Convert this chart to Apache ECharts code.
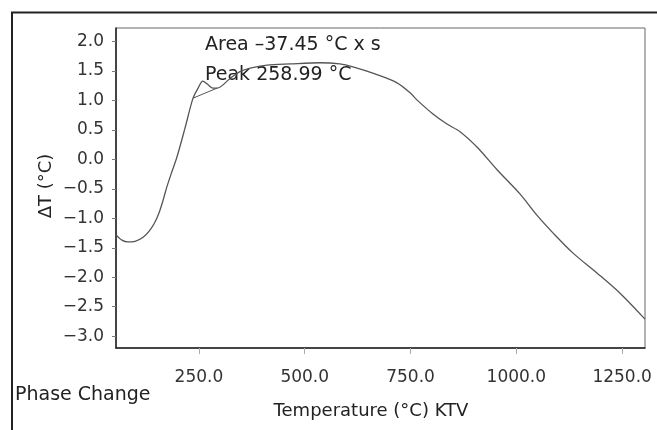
<!DOCTYPE html>
<html>
<head>
<meta charset="utf-8">
<script src="https://cdn.jsdelivr.net/npm/echarts@6/dist/echarts.min.js"></script>
<style>
  html, body { margin: 0; padding: 0; background: #fff; }
  #chart { width: 657px; height: 430px; }
</style>
</head>
<body>
<div id="chart"></div>
<script>
// DTA trace, temperature (°C) vs ΔT (°C)
const temps = [54, 68, 82, 99, 118, 132, 145, 156, 165, 174, 186, 198, 217, 236, 248, 259, 271, 283, 293,
  323, 347, 371, 411, 465, 536, 583, 614, 666, 718, 749, 765, 803, 836, 867, 907, 955, 1009,
  1049, 1087, 1134, 1191, 1245, 1304]
const deltaT = [-1.28, -1.37, -1.40, -1.39, -1.32, -1.22, -1.08, -0.90, -0.70, -0.47, -0.21, 0.04, 0.53, 1.04, 1.21, 1.33, 1.27, 1.21, 1.21,
  1.37, 1.49, 1.55, 1.60, 1.62, 1.64, 1.62, 1.57, 1.45, 1.30, 1.13, 1.01, 0.77, 0.60, 0.47, 0.21, -0.18, -0.59,
  -0.95, -1.25, -1.59, -1.93, -2.27, -2.71]

// peak integration baseline
const baseTemps = [236, 293]
const baseValues = [1.04, 1.21]

const xTicks = [250, 500, 750, 1000, 1250]
const yTicks = [-3.0, -2.5, -2.0, -1.5, -1.0, -0.5, 0.0, 0.5, 1.0, 1.5, 2.0]

const FONT = 'DejaVu Sans'
const chart = echarts.init(document.getElementById('chart'))

const fmt = v => (v < 0 ? '\u2212' : '') + Math.abs(v).toFixed(1)

const option = {
  animation: false,
  grid: {
    left: 116, right: 12, top: 28, bottom: 82,
    show: true, borderColor: '#666', borderWidth: 1
  },
  xAxis: {
    type: 'value',
    min: 54, max: 1304,
    splitLine: { show: false },
    axisLine: { onZero: false, lineStyle: { color: '#222', width: 1.5 } },
    axisTick: { customValues: xTicks, length: 6, lineStyle: { color: '#aaa' } },
    axisLabel: {
      customValues: xTicks, margin: 21,
      formatter: v => v.toFixed(1),
      fontFamily: FONT, fontSize: 17, color: '#333'
    }
  },
  yAxis: {
    type: 'value',
    min: -3.2, max: 2.23,
    splitLine: { show: false },
    axisLine: { show: true, onZero: false, lineStyle: { color: '#222', width: 1.5 } },
    axisTick: { show: true, customValues: yTicks, length: 4, lineStyle: { color: '#777' } },
    axisLabel: {
      customValues: yTicks, margin: 12,
      formatter: fmt,
      fontFamily: FONT, fontSize: 17, color: '#333'
    }
  },
  series: [
    {
      type: 'line',
      data: temps.map((t, i) => [t, deltaT[i]]),
      smooth: 0.3,
      symbol: 'none',
      lineStyle: { color: '#555', width: 1.3 }
    },
    {
      type: 'line',
      data: baseTemps.map((t, i) => [t, baseValues[i]]),
      symbol: 'none',
      lineStyle: { color: '#555', width: 1 }
    }
  ],
  graphic: [
    { type: 'line', shape: { x1: 11, y1: 12.5, x2: 657, y2: 12.5 }, style: { stroke: '#222', lineWidth: 2 } },
    { type: 'line', shape: { x1: 12, y1: 12, x2: 12, y2: 430 }, style: { stroke: '#222', lineWidth: 2 } },
    {
      type: 'text', x: 205, y: 45,
      style: { text: 'Area \u201337.45 °C x s', fontFamily: FONT, fontSize: 19, fill: '#222', verticalAlign: 'middle' }
    },
    {
      type: 'text', x: 205, y: 75,
      style: { text: 'Peak 258.99 °C', fontFamily: FONT, fontSize: 19, fill: '#222', verticalAlign: 'middle' }
    },
    {
      type: 'text', x: 46, y: 186, rotation: Math.PI / 2,
      style: { text: '\u0394T (°C)', fontFamily: FONT, fontSize: 18, fill: '#222', align: 'center', verticalAlign: 'middle' }
    },
    {
      type: 'text', x: 371, y: 411,
      style: { text: 'Temperature (°C) KTV', fontFamily: FONT, fontSize: 18, fill: '#222', align: 'center', verticalAlign: 'middle' }
    },
    {
      type: 'text', x: 15, y: 395,
      style: { text: 'Phase Change', fontFamily: FONT, fontSize: 19, fill: '#222', verticalAlign: 'middle' }
    }
  ]
}

chart.setOption(option)
</script>
</body>
</html>
